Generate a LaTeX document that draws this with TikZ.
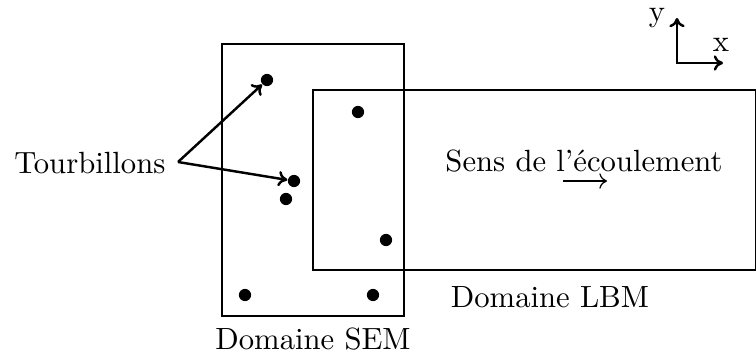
\documentclass[tikz,border=0pt]{standalone}
\usetikzlibrary{arrows.meta}
\begin{document}
\begin{tikzpicture}[x=0.326pt,y=-0.326pt,
  dom/.style={draw,line width=0.35pt},
  vortex/.style={circle,fill=black,inner sep=0pt,minimum size=4pt},
  pointer/.style={line width=0.8pt,-{To[length=3pt,width=5pt]}},
  lbl/.style={inner sep=0pt,font=\normalsize}]
\useasboundingbox (0,0) rectangle (756,361);
% domains
\draw[dom] (222,44) rectangle (404,316);
\draw[dom] (313,90) rectangle (755.5,270);
% vortices
\node[vortex] (v1) at (267,80) {};
\node[vortex] (v2) at (358,112) {};
\node[vortex] (v3) at (294,181) {};
\node[vortex] (v4) at (286,199) {};
\node[vortex] (v5) at (386,240) {};
\node[vortex] (v6) at (245,295) {};
\node[vortex] (v7) at (373,295) {};
% labels
\node[lbl,anchor=east] (tb) at (166,163) {Tourbillons};
\coordinate (tbs) at (178,162);
\draw[pointer] (tbs) -- (v1);
\draw[pointer] (tbs) -- (v3);
\node[lbl] (sens) at (584,161) {Sens de l'écoulement};
\coordinate (fa) at (563,181);
\coordinate (fb) at (607,181);
\draw[line width=0.4pt,-{To[length=2.5pt,width=5pt]}] (fa) -- (fb);
\node[lbl] (lbm) at (550,297) {Domaine LBM};
\node[lbl] (sem) at (313,339) {Domaine SEM};
% axes
\coordinate (o) at (677,63);
\coordinate (ya) at (677,18);
\coordinate (xa) at (723,63);
\draw[line width=0.8pt,{To[length=3pt,width=5pt]}-{To[length=3pt,width=5pt]}] (ya) -- (o) -- (xa);
\node[lbl] (ylab) at (657,18) {y};
\node[lbl] (xlab) at (721,45) {x};
\end{tikzpicture}
\end{document}
